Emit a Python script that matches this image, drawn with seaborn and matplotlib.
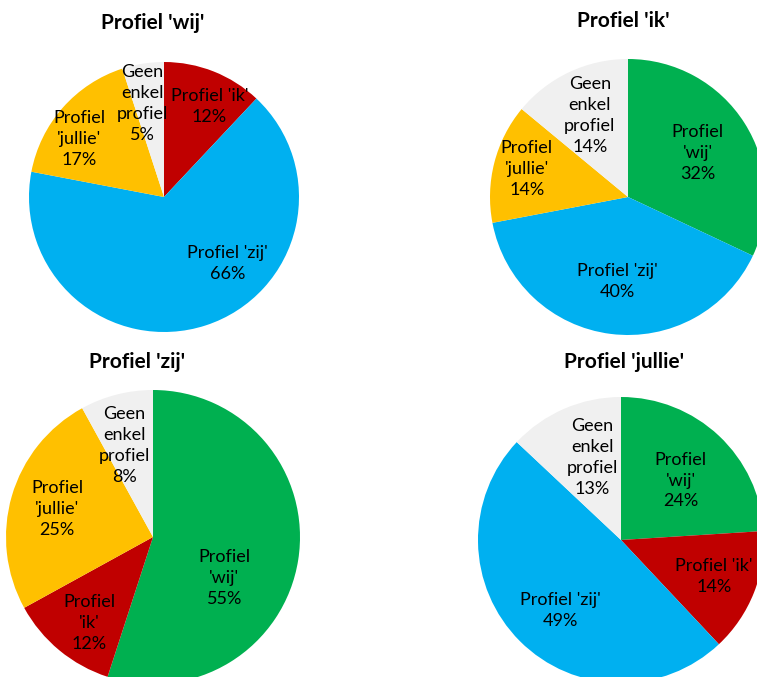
import matplotlib
matplotlib.use("Agg")
import numpy as np
import matplotlib.pyplot as plt
import seaborn as sns

sns.set_theme(style="white")
plt.rcParams["font.family"] = ["Lato", "DejaVu Sans"]

# colours per profile (Excel palette)
colors = {
    "wij": "#00B050",
    "ik": "#C00000",
    "zij": "#00B0F0",
    "jullie": "#FFC000",
    "geen": "#F0F0F0",
}

# Profiel 'wij'
wij_keys = ["ik", "zij", "jullie", "geen"]
wij_labels = ["Profiel 'ik'", "Profiel 'zij'", "Profiel\n'jullie'", "Geen\nenkel\nprofiel"]
wij_values = [12, 66, 17, 5]

# Profiel 'ik'
ik_keys = ["wij", "zij", "jullie", "geen"]
ik_labels = ["Profiel\n'wij'", "Profiel 'zij'", "Profiel\n'jullie'", "Geen\nenkel\nprofiel"]
ik_values = [32, 40, 14, 14]

# Profiel 'zij'
zij_keys = ["wij", "ik", "jullie", "geen"]
zij_labels = ["Profiel\n'wij'", "Profiel\n'ik'", "Profiel\n'jullie'", "Geen\nenkel\nprofiel"]
zij_values = [55, 12, 25, 8]

# Profiel 'jullie'
jullie_keys = ["wij", "ik", "zij", "geen"]
jullie_labels = ["Profiel\n'wij'", "Profiel 'ik'", "Profiel 'zij'", "Geen\nenkel\nprofiel"]
jullie_values = [24, 14, 49, 13]

titles = ["Profiel 'wij'", "Profiel 'ik'", "Profiel 'zij'", "Profiel 'jullie'"]

W, H = 757, 677
fig = plt.figure(figsize=(W / 100, H / 100), dpi=100)
fig.patch.set_facecolor("white")

# layout in pixels: pie centre, radius, title position,
# label distance per slice and angular nudge (degrees, clockwise) per slice
layout = [
    dict(cx=164, cy=197, r=135, tx=153, ty=23,
         ld=[0.75, 0.68, 0.76, 0.71], nudge=[5, -26, -7, -4]),
    dict(cx=628, cy=197, r=138, tx=623, ty=21,
         ld=[0.60, 0.62, 0.76, 0.65], nudge=[0, 0, 1, 0]),
    dict(cx=153, cy=537, r=147, tx=137, ty=362,
         ld=[0.56, 0.73, 0.68, 0.65], nudge=[21, -3, 0, -3]),
    dict(cx=621, cy=540, r=143, tx=624, ty=362,
         ld=[0.59, 0.70, 0.65, 0.61], nudge=[2, 0, -4, 4]),
]

pies = [
    (wij_keys, wij_labels, wij_values),
    (ik_keys, ik_labels, ik_values),
    (zij_keys, zij_labels, zij_values),
    (jullie_keys, jullie_labels, jullie_values),
]

for (keys, labels, values), lay, title in zip(pies, layout, titles):
    cx, cy, r = lay["cx"], lay["cy"], lay["r"]
    ax = fig.add_axes([(cx - r) / W, 1 - (cy + r) / H, 2 * r / W, 2 * r / H])
    total = sum(values)
    texts_in = [f"{lab}\n{round(v / total * 100)}%" for lab, v in zip(labels, values)]
    wedges, texts = ax.pie(
        values,
        labels=texts_in,
        colors=[colors[k] for k in keys],
        startangle=90,
        counterclock=False,
        radius=1,
        wedgeprops=dict(linewidth=0),
        textprops=dict(fontsize=13, color="black", linespacing=1.38),
    )
    # put each label inside its slice, like Excel's data labels
    for w, t, d, n in zip(wedges, texts, lay["ld"], lay["nudge"]):
        ang = np.deg2rad((w.theta1 + w.theta2) / 2 - n)
        t.set_position((d * np.cos(ang), d * np.sin(ang)))
        t.set_ha("center")
        t.set_va("center")
        t.set_multialignment("center")
    ax.set_xlim(-1, 1)
    ax.set_ylim(-1, 1)
    ax.axis("off")
    fig.text(lay["tx"] / W, 1 - lay["ty"] / H, title, ha="center", va="center",
             fontsize=15, fontweight="bold", color="black")

fig.savefig("out.png", dpi=100, facecolor="white")
